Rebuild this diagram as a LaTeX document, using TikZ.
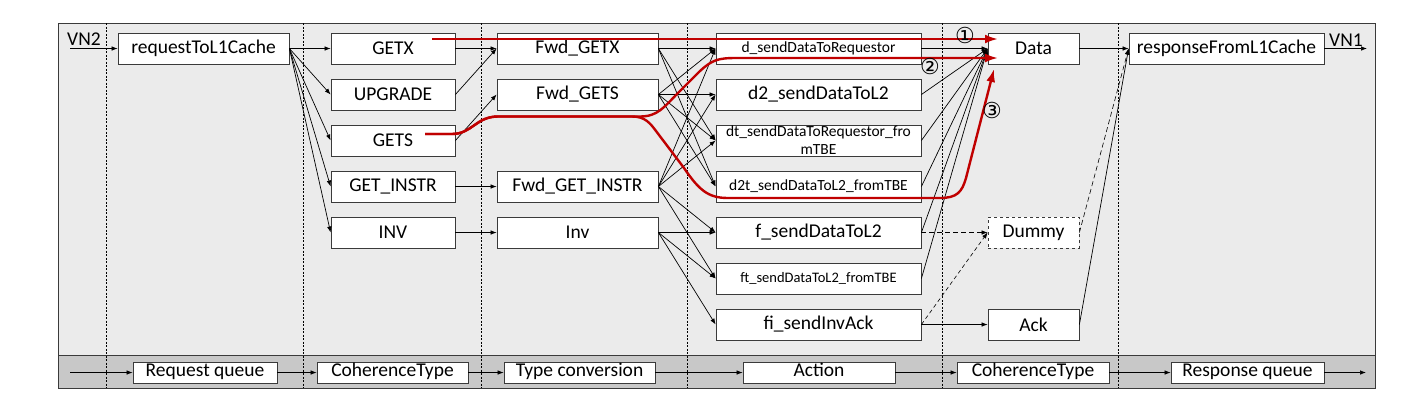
\documentclass[tikz,border=0pt]{standalone}
\usepackage{fontspec}
\setmainfont{Carlito}
\newfontfamily\symfont{DejaVu Sans}
\usetikzlibrary{arrows.meta}
\definecolor{bgmain}{HTML}{EBEBEB}
\definecolor{bgband}{HTML}{C8C8C8}
\definecolor{redpath}{HTML}{C00000}
\definecolor{boxline}{HTML}{3A3A3A}
\begin{document}
\begin{tikzpicture}[x=1pt,y=-1pt,
  box/.style={draw=boxline, fill=white, line width=0.8pt, minimum height=31pt, inner sep=0pt, align=center, font=\fontsize{19.5}{22}\selectfont},
  smallbox/.style={box, font=\fontsize{15.5}{18}\selectfont},
  bandbox/.style={draw=boxline, fill=white, line width=0.8pt, minimum height=21pt, inner sep=0pt, text height=12.5pt, text depth=4pt, font=\fontsize{19.5}{22}\selectfont},
  conn/.style={-{Latex[length=6pt,width=4.5pt]}, line width=0.7pt, black},
  dconn/.style={conn, dash pattern=on 5pt off 3pt},
  divider/.style={line width=0.8pt, dash pattern=on 2pt off 1.5pt, black},
  redline/.style={line width=2.4pt, redpath, -{Latex[length=13pt,width=9pt]}},
  lbl/.style={inner sep=0pt, font=\fontsize{19.5}{22}\selectfont},
  circ/.style={inner sep=0pt, font=\symfont\fontsize{22}{24}\selectfont}
]
\useasboundingbox (0,0) rectangle (1427,408);
% frame
\fill[bgmain] (58,23) rectangle (1375,388);
\fill[bgband] (58,355) rectangle (1375,388);
\draw[line width=0.8pt, boxline] (58,355) -- (1375,355);
\draw[line width=0.8pt, boxline] (58,23) rectangle (1375,388);
% dividers
\foreach \xx in {106,303,481,687,942,1118}
  \draw[divider] (\xx,23) -- (\xx,388);

% column 1
\node[box, minimum width=171pt] (req) at (203.5,48.5) {requestToL1Cache};
% column 2
\node[box, minimum width=124pt] (getx) at (393,48.5) {GETX};
\node[box, minimum width=124pt] (upg) at (393,94.5) {UPGRADE};
\node[box, minimum width=124pt] (gets) at (393,140.5) {GETS};
\node[box, minimum width=124pt] (geti) at (393,186.5) {GET\_INSTR};
\node[box, minimum width=124pt] (inv) at (393,232.5) {INV};
% column 3
\node[box, minimum width=161pt] (fgetx) at (577.5,48.5) {Fwd\_GETX};
\node[box, minimum width=161pt] (fgets) at (577.5,94.5) {Fwd\_GETS};
\node[box, minimum width=161pt] (fgeti) at (577.5,186.5) {Fwd\_GET\_INSTR};
\node[box, minimum width=161pt] (finv) at (577.5,232.5) {Inv};
% column 4
\node[smallbox, minimum width=205pt] (ad) at (818.5,48.5) {d\_sendDataToRequestor};
\node[box, minimum width=205pt] (ad2) at (818.5,94.5) {d2\_sendDataToL2};
\node[smallbox, minimum width=205pt] (adt) at (818.5,140.5) {dt\_sendDataToRequestor\_fro\\mTBE};
\node[smallbox, minimum width=205pt] (ad2t) at (818.5,186.5) {d2t\_sendDataToL2\_fromTBE};
\node[box, minimum width=205pt] (af) at (818.5,232.5) {f\_sendDataToL2};
\node[smallbox, font=\fontsize{14.5}{17}\selectfont, minimum width=205pt] (aft) at (818.5,278.5) {ft\_sendDataToL2\_fromTBE};
\node[box, minimum width=205pt] (afi) at (818.5,324.5) {fi\_sendInvAck};
% column 5
\node[box, minimum width=91pt] (data) at (1033.5,48.5) {Data};
\node[box, minimum width=91pt, dashed] (dummy) at (1033.5,232.5) {Dummy};
\node[box, minimum width=91pt] (ack) at (1033.5,324.5) {Ack};
% column 6
\node[box, minimum width=195pt] (resp) at (1226.5,48.5) {responseFromL1Cache};

% VN labels
\coordinate (vn2) at (70,48.5);
\coordinate (vn1) at (1367,48.5);
\node[lbl, anchor=south west] (vn2l) at (67,46) {VN2};
\node[lbl, anchor=south west] (vn1l) at (1329,47) {VN1};
\draw[conn] (vn2) -- (req.west);
\draw[conn] (resp.east) -- (vn1);

% connectors column 1 -> 2
\foreach \t in {getx,upg,gets,geti,inv}
  \draw[conn] (req.east) -- (\t.west);
% column 2 -> 3
\draw[conn] (getx.east) -- (fgetx.west);
\draw[conn] (upg.east) -- (fgetx.west);
\draw[conn] (gets.east) -- (fgets.west);
\draw[conn] (geti.east) -- (fgeti.west);
\draw[conn] (inv.east) -- (finv.west);
% column 3 -> 4
\foreach \t in {ad,adt,ad2t}
  \draw[conn] (fgetx.east) -- (\t.west);
\foreach \t in {ad,ad2,adt,ad2t}
  \draw[conn] (fgets.east) -- (\t.west);
\foreach \t in {ad,ad2,adt,af,aft}
  \draw[conn] (fgeti.east) -- (\t.west);
\foreach \t in {af,aft,afi}
  \draw[conn] (finv.east) -- (\t.west);
% column 4 -> 5
\foreach \s in {ad,ad2,adt,ad2t,af,aft}
  \draw[conn] (\s.east) -- (data.west);
\draw[dconn] (af.east) -- (dummy.west);
\draw[dconn, dash pattern=on 4pt off 3pt, line width=0.6pt] (afi.east) -- (dummy.west);
\draw[conn] (afi.east) -- (ack.west);
% column 5 -> 6
\draw[conn] (data.east) -- (resp.west);
\draw[dconn, dash pattern=on 5pt off 3pt, line width=0.6pt] (dummy.east) -- (resp.west);
\draw[conn] (ack.east) -- (resp.west);

% band
\node[bandbox, minimum width=144pt] (bq1) at (205,372.5) {Request queue};
\node[bandbox, minimum width=151pt] (bq2) at (392.5,372.5) {CoherenceType};
\node[bandbox, minimum width=151pt] (bq3) at (579.5,372.5) {Type conversion};
\node[bandbox, minimum width=152pt] (bq4) at (819,372.5) {Action};
\node[bandbox, minimum width=152pt] (bq5) at (1033,372.5) {CoherenceType};
\node[bandbox, minimum width=153pt] (bq6) at (1247.5,372.5) {Response queue};
\coordinate (bin) at (70,372.5);
\coordinate (bout) at (1366,372.5);
\draw[conn] (bin) -- (bq1.west);
\draw[conn] (bq1.east) -- (bq2.west);
\draw[conn] (bq2.east) -- (bq3.west);
\draw[conn] (bq3.east) -- (bq4.west);
\draw[conn] (bq4.east) -- (bq5.west);
\draw[conn] (bq5.east) -- (bq6.west);
\draw[conn] (bq6.east) -- (bout);

% red paths
\coordinate (r1s) at (432,39);
\coordinate (r1e) at (998,39);
\coordinate (r2s) at (425,134);
\coordinate (r2e) at (998,58);
\coordinate (r3e) at (994,69);
\draw[redline] (r1s) -- (r1e);
\draw[redline] (r2s) -- (452,134) .. controls (472,134) and (476,116.5) .. (498,116.5)
   -- (640,116.5) .. controls (658,116.5) and (664,107) .. (678,93)
   -- (700,71) .. controls (712,60) and (718,58) .. (736,58) -- (r2e);
\draw[redline] (r2s) -- (452,134) .. controls (472,134) and (476,116.5) .. (498,116.5)
   -- (632,116.5) .. controls (645,116.5) and (650,123) .. (656,131)
   -- (684,168) .. controls (699,190) and (708,198) .. (728,198)
   -- (940,198) .. controls (957,198) and (962,192) .. (966,178) -- (r3e);
% circled labels
\node[circ] (c1) at (965,35) {①};
\node[circ] (c2) at (930,66) {②};
\node[circ] (c3) at (992,110) {③};
\end{tikzpicture}
\end{document}
